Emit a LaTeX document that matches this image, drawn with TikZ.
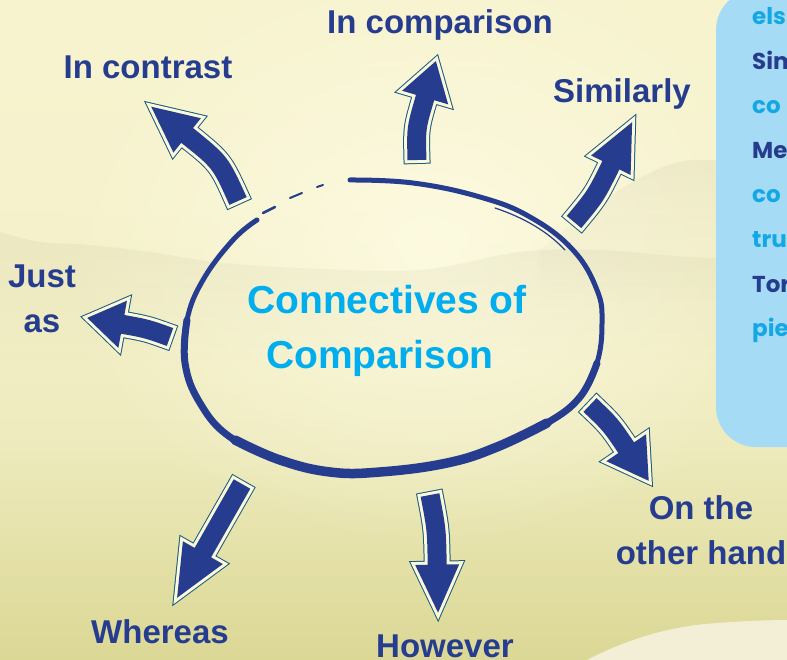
\documentclass[tikz,border=0pt]{standalone}
\usepackage{fontspec}
\usetikzlibrary{fadings}

\newfontfamily\labelfam{Liberation Sans}
\newfontfamily\panelfam{Poppins}
\newcommand\labelfont{\labelfam\bfseries\fontsize{33}{38}\selectfont}
\newcommand\titlefont{\labelfam\bfseries\fontsize{39}{46}\selectfont}
\newcommand\panelfont{\panelfam\bfseries\fontsize{23}{28}\selectfont}

\definecolor{navy}{RGB}{38,61,143}
\definecolor{skyblue}{RGB}{0,174,239}
\definecolor{paneltxt}{RGB}{20,167,230}
\definecolor{rimline}{RGB}{24,92,128}
\definecolor{rimband}{RGB}{252,248,218}
\definecolor{panelblue}{RGB}{166,219,246}
\definecolor{skyT}{RGB}{248,245,212}
\definecolor{skyL}{RGB}{246,242,204}
\definecolor{hazeL}{RGB}{238,235,190}
\definecolor{grassM}{RGB}{216,212,142}
\definecolor{grassB}{RGB}{190,187,106}
\definecolor{glowc}{RGB}{255,253,232}
\definecolor{treec}{RGB}{200,197,160}
\definecolor{hillc}{RGB}{210,206,172}
\definecolor{pathc}{RGB}{243,238,214}

\pgfdeclareverticalshading{meadow}{100bp}{color(0bp)=(grassB); color(22bp)=(grassM); color(42bp)=(hazeL); color(60bp)=(skyL); color(100bp)=(skyT)}
\tikzfading[name=softglow, inner color=transparent!0, outer color=transparent!100]
\tikzfading[name=fadedown, top color=transparent!20, bottom color=transparent!100]

\newcommand\shaftw{9.5}
% Curved block arrow.
% #1,#2: centre of the shaft base (y measured downward); #3: direction (deg);
% #4: length; #5: sideways bow of the shaft; #6: head length; #7: head half-width
\newcommand\blockarrow[7]{%
  \pgfmathsetmacro\baLe{#4-#6}%
  \pgfmathsetmacro\baPh{atan2(-2*(#5),\baLe/2)}%
  \pgfmathsetmacro\baCx{\baLe/2}%
  \pgfmathsetmacro\baCy{2*(#5)}%
  \pgfmathsetmacro\baEL{\baPh+90}%
  \pgfmathsetmacro\baER{\baPh-90}%
  \pgfmathsetmacro\baSL{90-\baPh}%
  \pgfmathsetmacro\baSR{-90-\baPh}%
  \begin{scope}[shift={(#1,-#2)},rotate=#3]
    \path[arrowbody]
      (\baSL:\shaftw) .. controls ([shift={(\baCx,\baCy)}]90:\shaftw) .. ([shift={(\baLe,0)}]\baEL:\shaftw)
      -- ([shift={(\baLe,0)}]\baEL:#7)
      -- ([shift={(\baLe,0)}]\baPh:#6)
      -- ([shift={(\baLe,0)}]\baER:#7)
      -- ([shift={(\baLe,0)}]\baER:\shaftw)
      .. controls ([shift={(\baCx,\baCy)}]-90:\shaftw) .. (\baSR:\shaftw) -- cycle;
  \end{scope}}

\tikzset{
  arrowbody/.style={fill=navy, line join=miter,
    preaction={draw=rimline, line width=8pt, line join=miter},
    preaction={draw=rimband, line width=6pt, line join=miter}},
  brush/.style={draw=navy, line cap=round, line join=round},
  lbl/.style={font=\labelfont, text=navy, inner sep=0pt, anchor=base},
  ttl/.style={font=\titlefont, text=skyblue, inner sep=0pt, anchor=base},
  ptxt/.style={font=\panelfont, inner sep=0pt, anchor=base west},
}

\begin{document}
\begin{tikzpicture}[x=1pt,y=1pt]
  \useasboundingbox (0,0) rectangle (787,-660);
  \clip (0,0) rectangle (787,-660);

  % hazy meadow background
  \shade[shading=meadow] (0,0) rectangle (787,-660);
  \fill[glowc, fill opacity=0.75, path fading=softglow] (430,-250) ellipse [x radius=380, y radius=300];
  \fill[hillc, fill opacity=0.3, path fading=fadedown]
    (540,-250) .. controls (600,-200) and (650,-165) .. (690,-160)
    .. controls (730,-158) and (760,-170) .. (787,-178) -- (787,-300) -- (540,-300) -- cycle;
  \fill[treec, fill opacity=0.25, path fading=fadedown]
    plot[smooth, tension=0.6] coordinates {(0,-232) (40,-242) (90,-245) (150,-252) (215,-262)
      (300,-268) (420,-270) (520,-252) (600,-250) (690,-257) (787,-260)}
    -- (787,-360) -- (0,-360) -- cycle;
  \fill[pathc] (585,-661) .. controls (625,-640) and (665,-628) .. (705,-624)
    .. controls (740,-621) and (770,-620) .. (788,-620) -- (788,-661) -- cycle;

  % side panel
  \fill[panelblue, rounded corners=40pt] (716,10) rectangle (840,-447);
  \node[ptxt, text=paneltxt] (p1) at (752,-25)  {els};
  \node[ptxt, text=navy]     (p2) at (752,-70)  {Sim};
  \node[ptxt, text=paneltxt] (p3) at (752,-114) {co};
  \node[ptxt, text=navy]     (p4) at (752,-159) {Me};
  \node[ptxt, text=paneltxt] (p5) at (752,-203) {co};
  \node[ptxt, text=paneltxt] (p6) at (752,-248) {tru};
  \node[ptxt, text=navy]     (p7) at (752,-293) {Tor};
  \node[ptxt, text=paneltxt] (p8) at (752,-337) {pie};

  % hand-drawn loop
  \draw[brush, line width=5pt] plot[smooth, tension=0.7] coordinates {
    (350,-180) (413,-183) (480,-197) (530,-217) (573,-250) (597,-290) (602,-323)
    (597,-363) (580,-397) (547,-423) (497,-447) (447,-463) (380,-472) (330,-472)
    (280,-460) (230,-437) (200,-403) (185,-363) (187,-320) (203,-280) (233,-240) (257,-220)};
  \draw[brush, line width=7pt] plot[smooth, tension=0.7] coordinates {
    (597,-363) (580,-397) (547,-423) (497,-447) (447,-463) (380,-472) (330,-472)
    (280,-460) (230,-437) (200,-403) (185,-363) (187,-320)};
  \draw[brush, line width=9.5pt] plot[smooth, tension=0.7] coordinates {
    (547,-423) (497,-447) (447,-463) (380,-472) (330,-472) (280,-460) (235,-440)};
  \draw[brush, line width=1.2pt] (495,-208) .. controls (525,-218) and (548,-232) .. (565,-250);
  \draw[brush, line width=2.5pt] (263,-213) -- (275,-207);
  \draw[brush, line width=2pt] (290,-198) -- (302,-193);
  \draw[brush, line width=2pt] (317,-187) -- (323,-185);

  % arrows pointing to the connectives
  \blockarrow{417}{160}{82.6}{101}{2.5}{38}{24}
  \blockarrow{238}{201}{127.8}{129}{-5}{46}{22}
  \blockarrow{574}{222}{57}{115.7}{-2}{48}{22}
  \blockarrow{170}{337}{165}{85}{-1}{36}{24}
  \blockarrow{242}{484}{-119.7}{131}{0}{52}{23}
  \blockarrow{430}{495}{-84.1}{118}{1.5}{48}{22}
  \blockarrow{590}{405}{-49.7}{96}{1.5}{40}{24}

  % labels
  \node[lbl] (cmp)  at (440,-34)  {In comparison};
  \node[lbl] (ctr)  at (148,-79)  {In contrast};
  \node[lbl] (sim)  at (622,-103) {Similarly};
  \node[lbl] (just) at (42,-288)  {Just};
  \node[lbl] (as)   at (42,-333)  {as};
  \node[lbl] (whr)  at (160,-643) {Whereas};
  \node[lbl] (how)  at (445,-657) {However};
  \node[lbl] (oth1) at (701,-519) {On the};
  \node[lbl] (oth2) at (701,-564) {other hand};

  % centre title
  \node[ttl] (t1) at (387,-313) {Connectives of};
  \node[ttl] (t2) at (380,-368) {Comparison};
\end{tikzpicture}
\end{document}
